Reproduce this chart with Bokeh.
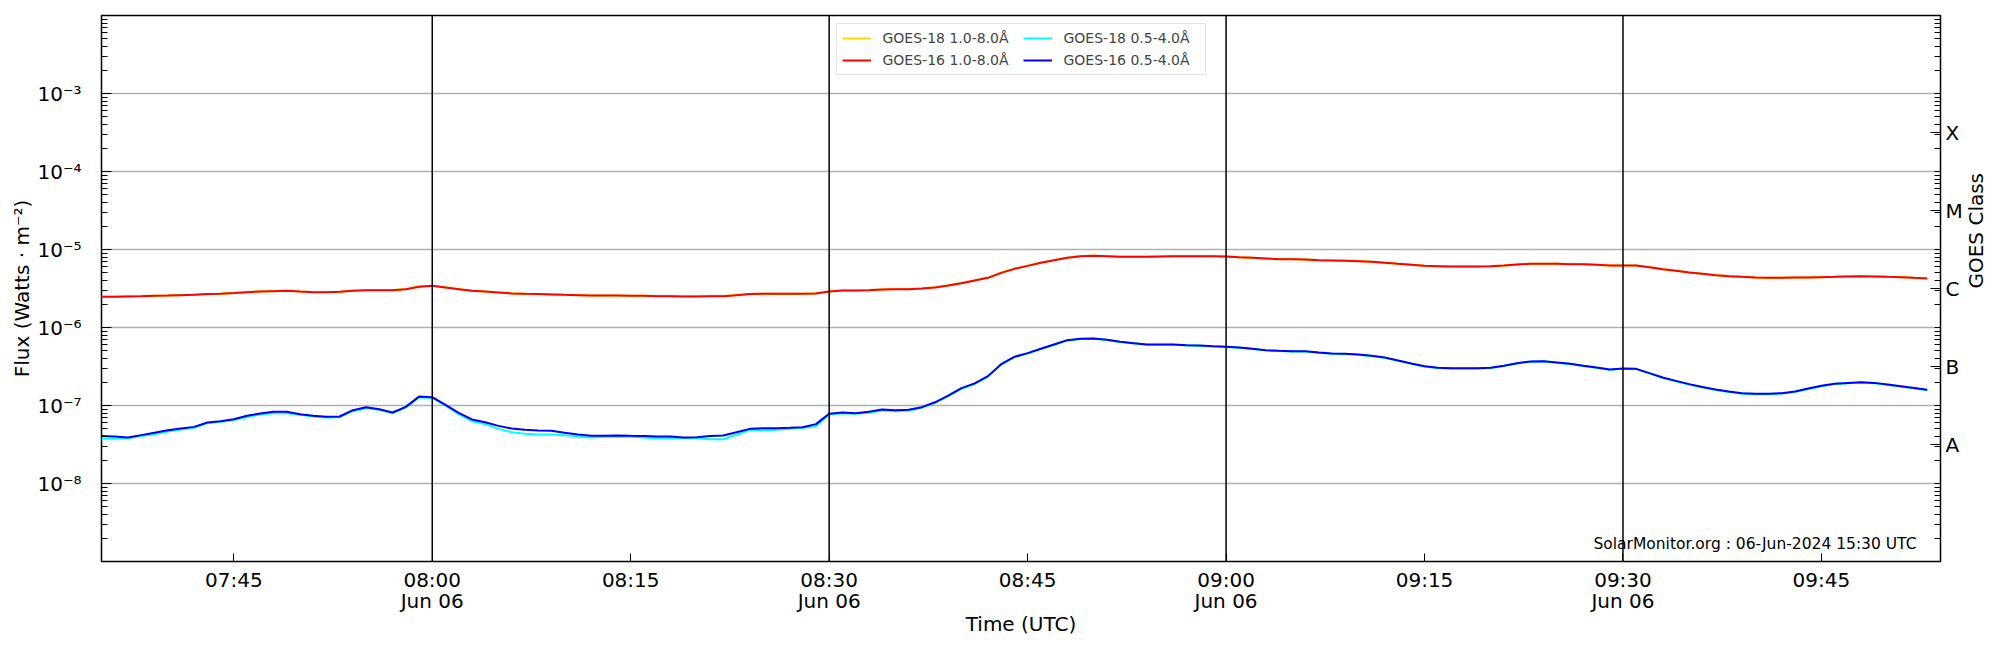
import math
import datetime as dt
import numpy as np
import pandas as pd
from bokeh.plotting import figure
from bokeh.models import (Range1d, FixedTicker, LogAxis, Span, Label, Legend,
                          LegendItem)
from bokeh.embed import file_html
from bokeh.resources import INLINE

# ---------------- data ----------------
start_time = dt.datetime(2024, 6, 6, 7, 35)
end_time = dt.datetime(2024, 6, 6, 9, 54)
times = pd.date_range(start_time, periods=139, freq="1min")

# GOES-16 1.0-8.0 A  (units of 1e-6 W/m^2)
goes16_long_e6 = [
    2.47, 2.47, 2.50, 2.52, 2.55, 2.57, 2.60, 2.62, 2.68, 2.70,
    2.76, 2.84, 2.89, 2.92, 2.95, 2.89, 2.84, 2.84, 2.87, 2.95,
    3.01, 3.01, 3.01, 3.10, 3.32, 3.42, 3.26, 3.10, 2.95, 2.89,
    2.81, 2.73, 2.70, 2.68, 2.65, 2.62, 2.60, 2.57, 2.57, 2.57,
    2.55, 2.55, 2.52, 2.52, 2.50, 2.50, 2.52, 2.52, 2.60, 2.68,
    2.70, 2.70, 2.70, 2.70, 2.73, 2.89, 2.98, 2.98, 3.01, 3.07,
    3.10, 3.10, 3.16, 3.26, 3.46, 3.70, 4.01, 4.33, 5.02, 5.65,
    6.17, 6.75, 7.30, 7.82, 8.21, 8.30, 8.21, 8.05, 8.05, 8.05,
    8.13, 8.21, 8.21, 8.21, 8.21, 8.13, 7.97, 7.82, 7.67, 7.52,
    7.52, 7.44, 7.30, 7.23, 7.16, 7.09, 6.95, 6.75, 6.55, 6.36,
    6.17, 6.11, 6.05, 6.05, 6.05, 6.11, 6.24, 6.42, 6.55, 6.55,
    6.55, 6.49, 6.49, 6.36, 6.24, 6.24, 6.24, 5.94, 5.60, 5.33,
    5.07, 4.88, 4.69, 4.55, 4.46, 4.38, 4.33, 4.33, 4.38, 4.38,
    4.42, 4.46, 4.51, 4.55, 4.51, 4.46, 4.42, 4.33, 4.25]

# GOES-18 1.0-8.0 A  (units of 1e-6 W/m^2) - hidden under GOES-16
goes18_long_e6 = [
    2.48, 2.48, 2.51, 2.53, 2.56, 2.58, 2.61, 2.63, 2.69, 2.71,
    2.77, 2.85, 2.90, 2.93, 2.96, 2.90, 2.85, 2.85, 2.88, 2.96,
    3.02, 3.02, 3.02, 3.11, 3.33, 3.43, 3.27, 3.11, 2.96, 2.90,
    2.82, 2.74, 2.71, 2.69, 2.66, 2.63, 2.61, 2.58, 2.58, 2.58,
    2.56, 2.56, 2.53, 2.53, 2.51, 2.51, 2.53, 2.53, 2.61, 2.69,
    2.71, 2.71, 2.71, 2.71, 2.74, 2.90, 2.99, 2.99, 3.02, 3.08,
    3.11, 3.11, 3.17, 3.27, 3.47, 3.71, 4.02, 4.34, 5.03, 5.66,
    6.18, 6.76, 7.31, 7.83, 8.22, 8.31, 8.22, 8.06, 8.06, 8.06,
    8.14, 8.22, 8.22, 8.22, 8.22, 8.14, 7.98, 7.83, 7.68, 7.53,
    7.53, 7.45, 7.31, 7.24, 7.17, 7.10, 6.96, 6.76, 6.56, 6.37,
    6.18, 6.12, 6.06, 6.06, 6.06, 6.12, 6.25, 6.43, 6.56, 6.56,
    6.56, 6.50, 6.50, 6.37, 6.25, 6.25, 6.25, 5.95, 5.61, 5.34,
    5.08, 4.89, 4.70, 4.56, 4.47, 4.39, 4.34, 4.34, 4.39, 4.39,
    4.43, 4.47, 4.52, 4.56, 4.52, 4.47, 4.43, 4.34, 4.26]

# GOES-16 0.5-4.0 A  (units of 1e-8 W/m^2)
goes16_short_e8 = [
    4.05, 4.01, 3.89, 4.17, 4.47, 4.83, 5.07, 5.32, 6.05, 6.30,
    6.68, 7.38, 7.89, 8.29, 8.29, 7.74, 7.38, 7.16, 7.23, 8.71,
    9.52, 8.97, 8.13, 9.61, 13.0, 12.8, 10.2, 8.05, 6.62, 6.11,
    5.48, 5.07, 4.88, 4.78, 4.73, 4.47, 4.25, 4.08, 4.08, 4.12,
    4.08, 4.05, 4.01, 4.01, 3.89, 3.93, 4.05, 4.12, 4.55, 5.02,
    5.12, 5.12, 5.18, 5.27, 5.77, 7.82, 8.13, 7.97, 8.29, 8.89,
    8.71, 8.80, 9.52, 11.0, 13.4, 16.7, 19.2, 23.8, 33.9, 42.1,
    46.9, 53.3, 60.6, 68.8, 71.6, 72.3, 69.5, 65.5, 63.0, 60.6,
    60.6, 60.6, 59.4, 58.8, 57.6, 56.5, 55.4, 53.3, 51.2, 50.2,
    49.7, 49.7, 47.8, 46.4, 46.0, 45.1, 43.3, 41.2, 37.8, 34.6,
    31.9, 30.4, 30.1, 30.1, 30.1, 30.4, 32.3, 34.9, 36.7, 37.0,
    35.6, 34.2, 32.3, 30.7, 28.9, 29.8, 29.5, 26.0, 22.9, 20.7,
    18.8, 17.3, 16.0, 15.1, 14.4, 14.1, 14.1, 14.4, 15.1, 16.5,
    17.9, 19.0, 19.5, 19.9, 19.5, 18.6, 17.7, 16.8, 15.9]

# GOES-18 0.5-4.0 A  (units of 1e-8 W/m^2)
goes18_short_e8 = [
    3.74, 3.74, 3.81, 4.05, 4.29, 4.64, 4.92, 5.18, 5.94, 6.17,
    6.49, 7.09, 7.67, 7.97, 7.97, 7.59, 7.23, 7.02, 7.09, 8.46,
    9.24, 8.80, 7.97, 9.43, 12.8, 12.5, 10.0, 7.74, 6.30, 5.77,
    5.02, 4.55, 4.33, 4.25, 4.25, 4.17, 3.97, 3.89, 3.97, 4.00,
    3.97, 3.89, 3.81, 3.81, 3.81, 3.81, 3.70, 3.70, 4.21, 4.88,
    4.83, 4.88, 5.02, 5.18, 5.43, 7.67, 7.97, 7.82, 8.05, 8.63,
    8.46, 8.54, 9.33, 10.8, 13.2, 16.4, 18.9, 23.5, 33.5, 41.7,
    46.5, 52.9, 60.1, 68.3, 71.2, 71.9, 69.1, 65.2, 62.7, 60.3,
    60.3, 60.3, 59.1, 58.5, 57.3, 56.2, 55.1, 53.0, 50.9, 49.9,
    49.4, 49.4, 47.5, 46.1, 45.7, 44.8, 43.0, 40.9, 37.5, 34.4,
    31.7, 30.2, 29.9, 29.9, 29.9, 30.2, 32.1, 34.7, 36.5, 36.8,
    35.4, 34.0, 32.1, 30.5, 28.7, 29.6, 29.3, 25.8, 22.7, 20.5,
    18.6, 17.1, 15.8, 14.9, 14.2, 13.9, 13.9, 14.2, 14.9, 16.3,
    17.7, 18.8, 19.3, 19.7, 19.3, 18.4, 17.5, 16.6, 15.7]

series_labels = ["GOES-18 1.0-8.0Å", "GOES-16 1.0-8.0Å",
                 "GOES-18 0.5-4.0Å", "GOES-16 0.5-4.0Å"]
series_colors = ["gold", "red", "cyan", "blue"]

x_tick_times = [dt.datetime(2024, 6, 6, 7, 45) + dt.timedelta(minutes=15 * i) for i in range(9)]
x_tick_labels = ["07:45", "08:00\nJun 06", "08:15", "08:30\nJun 06", "08:45",
                 "09:00\nJun 06", "09:15", "09:30\nJun 06", "09:45"]
marker_times = [dt.datetime(2024, 6, 6, 8, 0), dt.datetime(2024, 6, 6, 8, 30),
                dt.datetime(2024, 6, 6, 9, 0), dt.datetime(2024, 6, 6, 9, 30)]

y_decades = [1e-8, 1e-7, 1e-6, 1e-5, 1e-4, 1e-3]
y_decade_labels = ["10⁻⁸", "10⁻⁷", "10⁻⁶", "10⁻⁵", "10⁻⁴", "10⁻³"]
goes_classes = ["A", "B", "C", "M", "X"]
goes_class_levels = [10 ** -7.5, 10 ** -6.5, 10 ** -5.5, 10 ** -4.5, 10 ** -3.5]
right_axis_title = "GOES Class"
footer_text = "SolarMonitor.org : 06-Jun-2024 15:30 UTC"

# ---------------- figure ----------------
FONT = "DejaVu Sans"
epoch = dt.datetime(1970, 1, 1)
def to_ms(t):
    return (t - epoch).total_seconds() * 1000.0

FW, FH = 1839, 546
p = figure(frame_width=FW, frame_height=FH,
           x_axis_type="datetime", y_axis_type="log",
           x_range=Range1d(start_time, end_time), y_range=Range1d(1e-9, 1e-2),
           output_backend="svg", toolbar_location=None,
           min_border_left=101, min_border_right=60, min_border_top=15, min_border_bottom=89)
p.background_fill_color = "white"
p.border_fill_color = "white"
p.outline_line_color = "black"
p.outline_line_width = 1.5

minor_ticks = [k * 10.0 ** e for e in range(-9, -2) for k in range(2, 10)]

# grid
p.xgrid.visible = False
p.ygrid.ticker = FixedTicker(ticks=y_decades)
p.ygrid.grid_line_color = "#b0b0b0"
p.ygrid.grid_line_width = 1.3

# x axis
xa = p.xaxis[0]
xa.ticker = FixedTicker(ticks=[to_ms(t) for t in x_tick_times])
xa.major_label_overrides = {to_ms(t): lab for t, lab in zip(x_tick_times, x_tick_labels)}
xa.axis_label = "Time (UTC)"
xa.major_tick_in = 8
xa.major_tick_out = 0
xa.axis_line_color = None
xa.major_label_standoff = 6
xa.axis_label_standoff = -4
xa.major_label_text_line_height = 0.9

# left y axis
ya = p.yaxis[0]
ya.ticker = FixedTicker(ticks=y_decades, minor_ticks=minor_ticks)
ya.major_label_overrides = {v: lab for v, lab in zip(y_decades, y_decade_labels)}
ya.axis_label = "Flux (Watts · m⁻²)"
ya.major_tick_in = 10
ya.major_tick_out = 0
ya.minor_tick_in = 6
ya.minor_tick_out = 0
ya.axis_line_color = None
ya.major_label_standoff = 20
ya.axis_label_standoff = 0

# right y axis (GOES classes)
ra = LogAxis()
ra.ticker = FixedTicker(ticks=goes_class_levels, minor_ticks=minor_ticks + y_decades)
ra.major_label_overrides = {v: lab for v, lab in zip(goes_class_levels, goes_classes)}
ra.axis_label = right_axis_title
ra.axis_label_orientation = math.pi / 2
ra.major_tick_in = 10
ra.major_tick_out = 0
ra.minor_tick_in = 6
ra.minor_tick_out = 0
ra.axis_line_color = None
ra.major_label_standoff = 5
ra.axis_label_standoff = 10
p.add_layout(ra, "right")

for ax in [xa, ya, ra]:
    ax.major_label_text_font = FONT
    ax.major_label_text_font_size = "20px"
    ax.major_label_text_color = "black"
    ax.axis_label_text_font = FONT
    ax.axis_label_text_font_size = "20px"
    ax.axis_label_text_font_style = "normal"
    ax.axis_label_text_color = "black"
    ax.major_tick_line_color = "black"
    ax.minor_tick_line_color = "black"
xa.minor_tick_line_color = None

# lines
r18l = p.line(times, np.array(goes18_long_e6) * 1e-6, line_color=series_colors[0], line_width=2)
r16l = p.line(times, np.array(goes16_long_e6) * 1e-6, line_color=series_colors[1], line_width=2)
r18s = p.line(times, np.array(goes18_short_e8) * 1e-8, line_color=series_colors[2], line_width=2)
r16s = p.line(times, np.array(goes16_short_e8) * 1e-8, line_color=series_colors[3], line_width=2)

for t in marker_times:
    p.add_layout(Span(location=to_ms(t), dimension="height", line_color="black", line_width=1.5))

legend = Legend(items=[LegendItem(label=series_labels[0], renderers=[r18l]),
                       LegendItem(label=series_labels[1], renderers=[r16l]),
                       LegendItem(label=series_labels[2], renderers=[r18s]),
                       LegendItem(label=series_labels[3], renderers=[r16s])],
                location="top_center", ncols=2)
legend.label_text_font = FONT
legend.label_text_font_size = "14px"
legend.label_height = 18
legend.label_width = 136
legend.glyph_height = 18
legend.glyph_width = 29
legend.label_standoff = 12
legend.spacing = 4
legend.padding = 5
legend.margin = 8
legend.border_line_color = "#cccccc"
legend.border_line_width = 1
legend.background_fill_alpha = 0.8
p.add_layout(legend)

p.add_layout(Label(x=FW - 24, y=18, x_units="screen", y_units="screen", text=footer_text,
                   text_align="right", text_baseline="middle", text_font=FONT,
                   text_font_size="15.5px", text_color="black"))

open("out.html", "w").write(file_html(p, INLINE))
